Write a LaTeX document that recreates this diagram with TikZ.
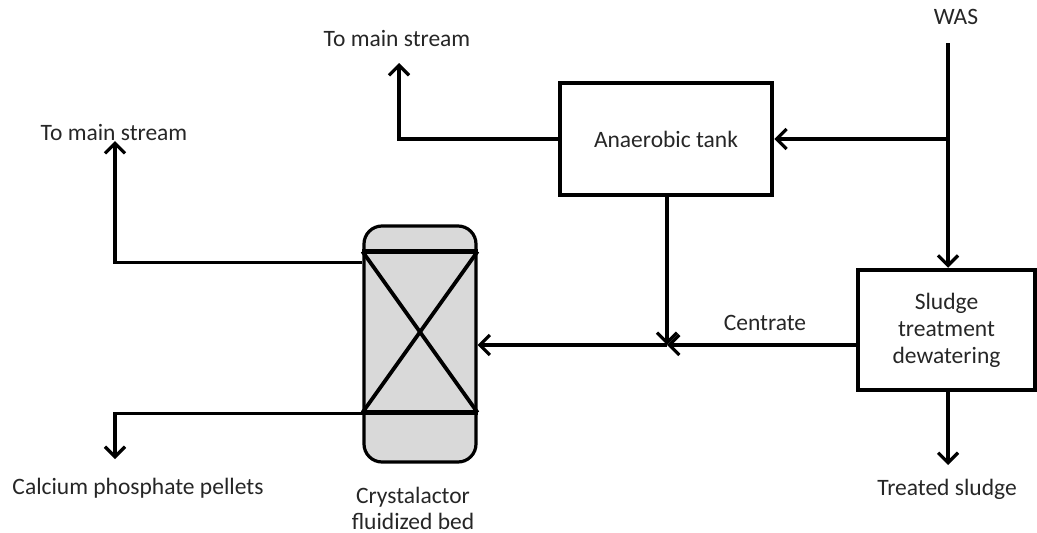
\documentclass[tikz,border=0pt]{standalone}
\usepackage{fontspec}
\setmainfont{Carlito}
\usetikzlibrary{arrows.meta,calc}
\definecolor{txt}{HTML}{262626}
\definecolor{fillg}{HTML}{D9D9D9}
\tikzset{
  lbl/.style={text=txt,font=\fontsize{23.5}{26}\selectfont,inner sep=0pt,align=center},
  box/.style={draw=black,line width=4.5pt,minimum width=#1,inner sep=0pt},
  flow/.style={draw=black,line width=3.2pt,-{Straight Barb[length=10pt,width=20pt,line width=3.2pt]}},
  plain/.style={draw=black,line width=3.2pt},
}
\begin{document}
\begin{tikzpicture}[x=1pt,y=-1pt]
\useasboundingbox (0,0) rectangle (1037,533);
% boxes
\node[box=212pt,minimum height=112pt,lbl] (anaer) at (666,139) {Anaerobic tank};
\node[box=177pt,minimum height=120pt,lbl,font=\fontsize{23.5}{27}\selectfont] (sludge) at (946.5,330) {Sludge\\treatment\\dewatering};
\node[draw=black,line width=3.2pt,fill=fillg,rounded corners=18pt,minimum width=112pt,minimum height=236pt,inner sep=0pt] (cryst) at (420,344) {};
% crystalactor internals
\coordinate (ctl) at ($(cryst.north west)+(0,27)$);
\coordinate (ctr) at ($(cryst.north east)+(0,27)$);
\coordinate (cbl) at ($(cryst.south west)+(0,-51)$);
\coordinate (cbr) at ($(cryst.south east)+(0,-51)$);
\draw[line width=4.5pt] (ctl) -- (ctr);
\draw[line width=4.5pt] (cbl) -- (cbr);
\draw[line width=3.8pt] (ctl) -- (cbr);
\draw[line width=3.8pt] (cbl) -- (ctr);
% labels
\node[lbl] (was) at (956,17) {WAS};
\node[lbl] (tms1) at (397,39) {To main stream};
\node[lbl] (tms2) at (114,132) {To main stream};
\node[lbl] (cpp) at (138,488) {Calcium phosphate pellets};
\node[lbl] (crl) at (413,508) {Crystalactor\\fluidized bed};
\node[lbl] (trs) at (947,489) {Treated sludge};
\node[lbl] (cen) at (765,323) {Centrate};
% coordinates
\coordinate (wasTop) at (948,43);
\coordinate (j1) at (948,139);
\coordinate (a1) at (399,63);
\coordinate (junc) at (667,345);
\coordinate (a2) at (115,141);
\coordinate (a3) at (115,459);
\coordinate (a4) at (948,465);
\coordinate (cu) at ($(cryst.north west)+(0,38)$);
\coordinate (cl) at ($(cryst.south west)+(0,-50)$);
% connectors
\draw[plain] (wasTop) -- (j1);
\draw[flow] (j1) -- (sludge.north -| j1);
\draw[flow] (j1) -- (anaer.east |- j1);
\draw[flow] (anaer.west) -| (a1);
\draw[flow] (anaer.south -| junc) -- (junc);
\draw[flow] (sludge.west |- junc) -- (junc);
\draw[flow] (junc) -- (cryst.east |- junc);
\draw[flow] (cu) -| (a2);
\draw[flow] (cl) -| (a3);
\draw[flow] (sludge.south -| a4) -- (a4);
\end{tikzpicture}
\end{document}
